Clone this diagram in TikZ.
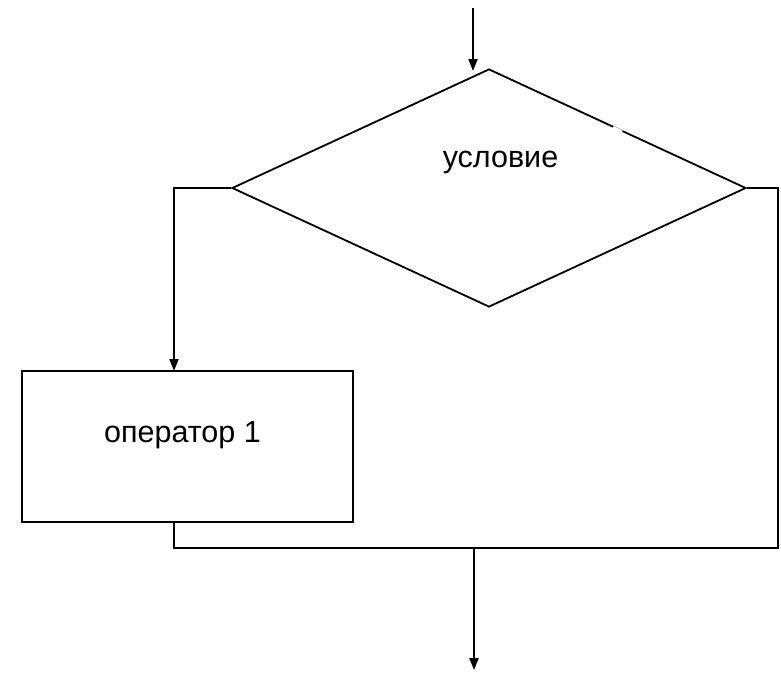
\documentclass[tikz,border=0pt]{standalone}
\usepackage{fontspec}
\setmainfont{Liberation Sans}
\usetikzlibrary{shapes.geometric,arrows.meta}
\tikzset{
  ln/.style={line width=1.8pt, draw=black},
  arr/.style={ln, -{Triangle[length=12pt,width=9pt]}},
  lbl/.style={font=\fontsize{30.5}{34}\selectfont, inner sep=0pt, anchor=base},
}
\begin{document}
\begin{tikzpicture}[x=1pt,y=-1pt]
\useasboundingbox (0,0) rectangle (781,675);
% diamond
\node[diamond, ln, minimum width=514pt, minimum height=238pt, inner sep=0pt] (cond) at (489,188) {};
\node[lbl] (condtxt) at (500.5,167) {условие};
% small gap in the upper right edge
\draw[white, line width=3.2pt] (613,127.5) -- (622,131.8);
% operator box
\node[draw, line width=1.8pt, minimum width=331pt, minimum height=151pt, inner sep=0pt] (op) at (187.5,446.5) {};
\node[lbl] (optxt) at (182.5,442) {оператор 1};
% coordinates
\coordinate (in) at (473,8);
\coordinate (intip) at (473,71);
\coordinate (lc) at (174,188);
\coordinate (rc) at (778,188);
\coordinate (opin) at (174,371);
\coordinate (opout) at (174,522);
\coordinate (bl) at (174,548);
\coordinate (br) at (778,548);
\coordinate (j) at (474,548);
\coordinate (out) at (474,670);
% connectors
\draw[arr] (in) -- (intip);
\draw[arr] (cond.west) -- (lc) -- (opin);
\draw[ln] (cond.east) -- (rc) -- (br) -- (bl) -- (opout);
\draw[arr] (j) -- (out);
\end{tikzpicture}
\end{document}
